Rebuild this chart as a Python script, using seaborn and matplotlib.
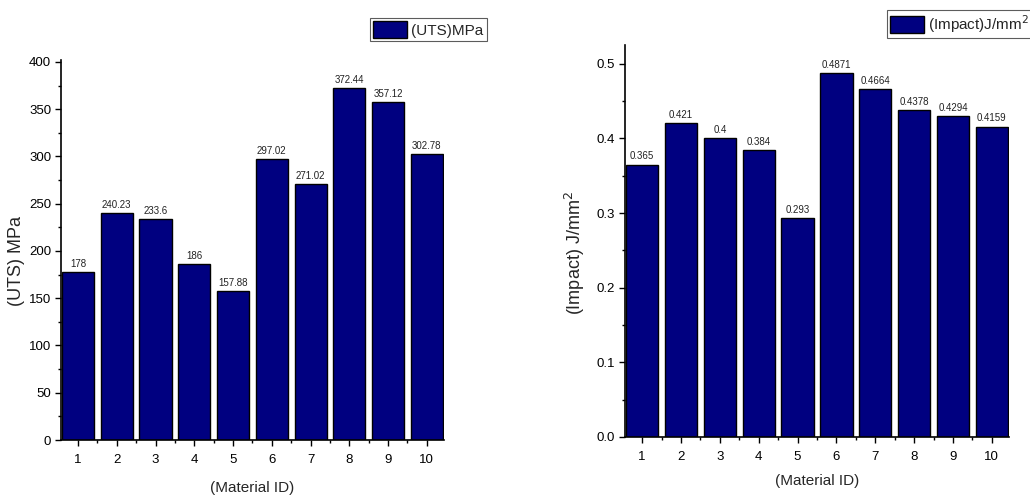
import matplotlib
matplotlib.use("Agg")
import matplotlib.pyplot as plt
from matplotlib.ticker import MultipleLocator, FixedLocator
import seaborn as sns
import pandas as pd

material_ids = ["1", "2", "3", "4", "5", "6", "7", "8", "9", "10"]
uts_mpa = [178, 240.23, 233.6, 186, 157.88, 297.02, 271.02, 372.44, 357.12, 302.78]
impact_j_mm2 = [0.365, 0.421, 0.4, 0.384, 0.293, 0.4871, 0.4664, 0.4378, 0.4294, 0.4159]
uts_labels = ["178", "240.23", "233.6", "186", "157.88", "297.02", "271.02", "372.44", "357.12", "302.78"]
impact_labels = ["0.365", "0.421", "0.4", "0.384", "0.293", "0.4871", "0.4664", "0.4378", "0.4294", "0.4159"]

sns.set_theme(style="ticks")
plt.rcParams["font.family"] = ["Liberation Sans", "DejaVu Sans"]

df = pd.DataFrame({"id": material_ids, "uts": uts_mpa, "impact": impact_j_mm2})

fig = plt.figure(figsize=(10.3, 4.96), dpi=100)
ax1 = fig.add_axes([0.0592, 0.1129, 0.3718, 0.766])
ax2 = fig.add_axes([0.6068, 0.1190, 0.3728, 0.790])

navy = "#000080"


def draw(ax, col, labels, legend_label, ylabel, ylim, major, minor, fmt,
         legend_anchor, xlabel_pad, ylabel_x):
    sns.barplot(data=df, x="id", y=col, ax=ax, color=navy, width=0.83,
                edgecolor="black", linewidth=1.0, saturation=1, label=legend_label)
    for patch, txt in zip(ax.patches, labels):
        ax.text(patch.get_x() + patch.get_width() / 2, patch.get_height() + ylim[1] * 0.008,
                txt, ha="center", va="bottom", fontsize=7, color="#222222")
    ax.set_xlim(-0.44, 9.44)
    ax.set_ylim(*ylim)
    ax.yaxis.set_major_locator(MultipleLocator(major))
    ax.yaxis.set_minor_locator(MultipleLocator(minor))
    ax.yaxis.set_major_formatter(fmt)
    ax.xaxis.set_minor_locator(FixedLocator([i + 0.5 for i in range(-1, 10)]))
    for s in ("top", "right"):
        ax.spines[s].set_visible(False)
    for s in ("left", "bottom"):
        ax.spines[s].set_linewidth(1.2)
        ax.spines[s].set_color("black")
    ax.tick_params(axis="both", which="major", direction="out", length=4, width=1.0,
                   labelsize=9.5, colors="black", pad=3)
    ax.tick_params(axis="x", which="major", pad=6)
    ax.tick_params(axis="both", which="minor", direction="out", length=2.5, width=1.0, colors="black")
    ax.set_xlabel("(Material ID)", fontsize=11, labelpad=xlabel_pad)
    ax.set_ylabel(ylabel, fontsize=13)
    ax.yaxis.set_label_coords(ylabel_x, 0.47)
    leg = ax.legend(loc="upper left", bbox_to_anchor=legend_anchor, bbox_transform=fig.transFigure,
                    frameon=True, fancybox=False, fontsize=11, handlelength=2.2, handleheight=1.35,
                    borderpad=0.2, handletextpad=0.3, borderaxespad=0)
    leg.get_frame().set_edgecolor("#333333")
    leg.get_frame().set_linewidth(0.8)


draw(ax1, "uts", uts_labels, "(UTS)MPa", "(UTS) MPa", (0, 402), 50, 25,
     "{x:.0f}", (0.3592, 0.964), 11, -0.094)
draw(ax2, "impact", impact_labels, "(Impact)J/mm$^2$", "(Impact) J/mm$^2$", (0, 0.525), 0.1, 0.05,
     "{x:.1f}", (0.8612, 0.980), 8, -0.099)

fig.savefig("out.png", dpi=100)
